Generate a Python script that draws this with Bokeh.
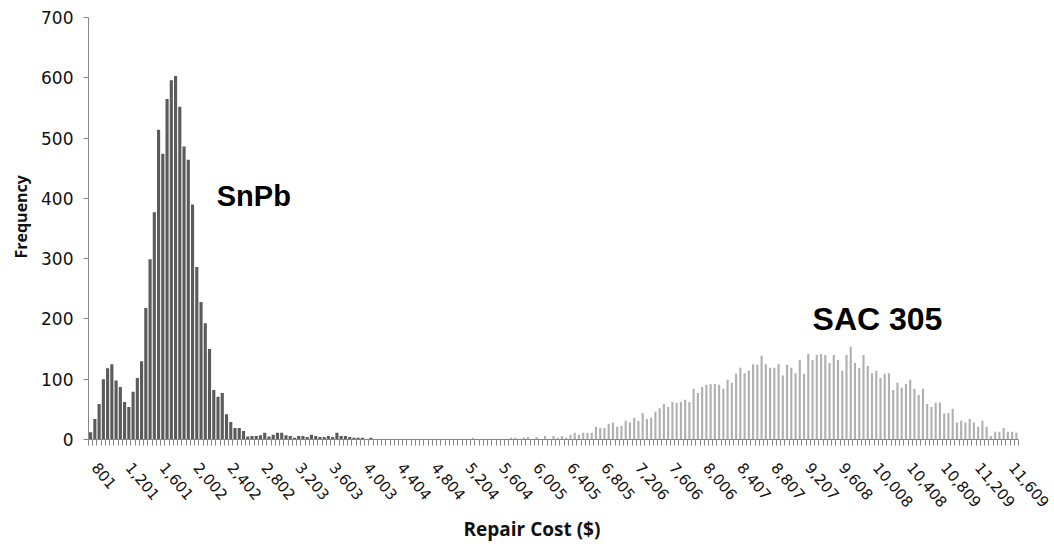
import math
from bokeh.plotting import figure
from bokeh.models import Range1d, FixedTicker, Label, ColumnDataSource, Title
from bokeh.embed import file_html
from bokeh.resources import INLINE

# ---- data ----
n_bins = 219          # histogram bins (categories)
label_step = 8        # one category label every 8 bins
tick_labels = ["801", "1,201", "1,601", "2,002", "2,402", "2,802", "3,203", "3,603",
               "4,003", "4,404", "4,804", "5,204", "5,604", "6,005", "6,405", "6,805",
               "7,206", "7,606", "8,006", "8,407", "8,807", "9,207", "9,608", "10,008",
               "10,408", "10,809", "11,209", "11,609"]

# SnPb frequencies, bins 0..66 (later bins are empty)
snpb_freq = [12, 34, 59, 100, 118, 125, 98, 87, 62, 54,
             79, 102, 130, 218, 299, 377, 514, 474, 565, 596,
             603, 552, 486, 464, 390, 286, 228, 193, 150, 82,
             71, 77, 42, 29, 19, 19, 14, 5, 6, 6,
             7, 11, 5, 8, 11, 11, 7, 6, 3, 6,
             6, 4, 8, 6, 4, 4, 6, 4, 11, 6,
             6, 4, 3, 3, 3, 0, 3]

# SAC 305 frequencies, bins 90..218 (earlier bins are empty)
sac_first_bin = 90
sac_freq = [3, 0, 0, 0, 0, 0, 0, 0, 0, 3, 3, 0, 3, 4, 0, 4, 0, 6, 0, 6, 3, 6, 3, 8, 11, 8,
            11, 11, 11, 21, 19, 19, 26, 28, 21, 23, 31, 28, 36, 31, 44, 34, 36, 46, 52, 59,
            54, 62, 61, 62, 66, 62, 84, 77, 87, 91, 92, 92, 91, 84, 99, 94, 109, 119, 110, 114,
            125, 124, 139, 125, 119, 119, 125, 106, 124, 119, 110, 132, 109, 142, 132, 140,
            142, 140, 127, 140, 132, 114, 140, 154, 127, 119, 140, 122, 110, 114, 102, 109,
            110, 82, 94, 86, 92, 99, 84, 74, 84, 59, 54, 61, 61, 43, 44, 51, 28, 31, 28, 34,
            28, 21, 31, 21, 6, 13, 13, 19, 13, 13, 11]

# ---- build columns ----
snpb = snpb_freq + [0] * (n_bins - len(snpb_freq))
sac = [0] * sac_first_bin + sac_freq
sac = sac + [0] * (n_bins - len(sac))
idx = list(range(n_bins))
src = ColumnDataSource(dict(x=idx, snpb=snpb, sac=sac))

AXIS_COL = "#868686"
FONT = "Open Sans"
TXT = "#111111"
label_shift = 1.1     # rotated category labels start slightly right of the bin centre

p = figure(width=1054, height=548,
           x_range=Range1d(-0.5, n_bins - 0.5), y_range=Range1d(0, 700),
           output_backend="svg", toolbar_location=None,
           min_border_left=87, min_border_right=36, min_border_top=17, min_border_bottom=109)
p.outline_line_color = None
p.xgrid.visible = False
p.ygrid.visible = False
p.background_fill_color = "white"
p.border_fill_color = "white"

p.vbar(x="x", top="snpb", width=0.74, source=src, fill_color="#5b5b5b", line_color=None)
p.vbar(x="x", top="sac", width=0.5, source=src, fill_color="#b0b0b0", line_color=None)

# y axis
ya = p.yaxis[0]
ya.ticker = FixedTicker(ticks=list(range(0, 701, 100)))
ya.axis_line_color = AXIS_COL
ya.major_tick_line_color = AXIS_COL
ya.major_tick_out = 5
ya.major_tick_in = 0
ya.minor_tick_line_color = None
ya.major_label_standoff = 10
ya.major_label_text_font = "DejaVu Sans"
ya.major_label_text_font_size = "17px"
ya.major_label_text_color = TXT

# x axis
xa = p.xaxis[0]
label_pos = [i * label_step + label_shift for i in range(len(tick_labels))]
xa.ticker = FixedTicker(ticks=label_pos,
                        minor_ticks=[i - 0.5 for i in range(n_bins + 1)])
xa.major_label_overrides = {pos: lab for pos, lab in zip(label_pos, tick_labels)}
xa.axis_line_color = AXIS_COL
xa.major_tick_line_color = None
xa.major_tick_out = 6
xa.major_tick_in = 0
xa.minor_tick_line_color = AXIS_COL
xa.minor_tick_out = 6
xa.minor_tick_in = 0
xa.major_label_orientation = -0.87
xa.major_label_standoff = 19
xa.major_label_text_font = "DejaVu Sans"
xa.major_label_text_font_size = "15px"
xa.major_label_text_color = TXT

# axis titles
p.add_layout(Title(text="Frequency", align="left", offset=181, text_font=FONT,
                   text_font_style="bold", text_font_size="16px", text_color=TXT,
                   standoff=14), "left")
p.add_layout(Title(text="Repair Cost ($)", align="left", offset=375, text_font=FONT,
                   text_font_style="bold", text_font_size="19px", text_color=TXT,
                   vertical_align="top", standoff=0), "below")

# series annotations
p.add_layout(Label(x=29.7, y=404, text="SnPb", text_font="Liberation Sans",
                   text_font_style="bold", text_font_size="29px",
                   text_color="black", text_baseline="alphabetic"))
p.add_layout(Label(x=170, y=200, text="SAC 305", text_font="Liberation Sans",
                   text_font_style="bold", text_font_size="32px",
                   text_color="black", text_baseline="alphabetic"))

open("out.html", "w").write(file_html(p, INLINE))
